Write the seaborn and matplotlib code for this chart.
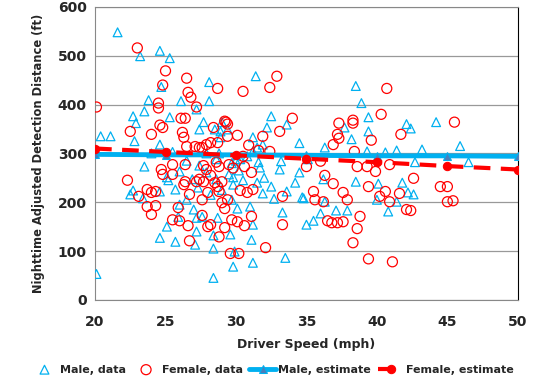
import matplotlib
matplotlib.use("Agg")
import matplotlib.pyplot as plt
import seaborn as sns
import pandas as pd

# driver speed (mph) and nighttime adjusted detection distance (ft)
male_speed = [20.1, 20.4, 21.1, 21.6, 23.2, 24.6, 25.3, 24.7, 23.8, 23.5, 22.7, 22.9, 22.8, 24.6,
              25.3, 26.1, 28.1, 28.1, 27.2, 27.7, 27.4, 29.0, 28.9, 29.4, 28.6, 23.5, 25.1, 26.0,
              25.7, 22.7, 22.5, 26.9, 27.3, 27.9, 28.6, 29.5, 29.8, 31.4, 31.2, 31.9, 31.7, 30.3,
              30.8, 23.4, 24.6, 25.2, 25.1, 24.6, 25.7, 27.1, 27.2, 27.2, 32.5, 32.2, 33.6, 34.5,
              31.5, 28.5, 28.9, 31.2, 29.8, 31.6, 33.2, 33.1, 34.5, 32.5, 31.9, 32.7, 31.0, 30.1,
              29.7, 31.2, 33.3, 31.1, 29.6, 28.4, 28.4, 29.9, 31.2, 29.8, 28.4, 33.5, 34.7, 28.7,
              27.6, 38.5, 38.9, 39.4, 37.7, 39.4, 38.2, 36.3, 39.3, 41.4, 42.1, 40.6, 35.1, 38.5,
              40.1, 41.8, 36.2, 34.8, 36.3, 37.1, 37.9, 36.0, 35.5, 35.0, 40.8, 41.4, 42.2, 40.0,
              44.2, 42.4, 45.9, 43.2, 42.7, 46.5, 42.6, 26.5, 27.4, 27.9, 28.8, 25.5, 29.7, 30.2,
              28.2, 26.5, 27.0, 29.0, 30.5, 31.5, 32.0, 30.0, 24.0, 26.0, 25.9, 33.6, 34.2]
male_dist = [53, 335, 335, 548, 499, 510, 495, 436, 409, 386, 376, 362, 325, 318,
             374, 407, 407, 446, 390, 364, 349, 364, 345, 349, 288, 273, 251, 263,
             226, 224, 216, 247, 230, 261, 247, 257, 236, 458, 333, 318, 271, 288,
             294, 208, 222, 245, 150, 127, 119, 113, 140, 168, 376, 353, 359, 321,
             312, 349, 333, 304, 251, 282, 284, 267, 261, 232, 218, 207, 191, 187,
             205, 154, 179, 123, 134, 132, 105, 99, 76, 68, 45, 86, 210, 168,
             170, 438, 403, 374, 353, 345, 329, 312, 304, 306, 360, 302, 288, 242,
             238, 240, 247, 208, 201, 183, 183, 177, 162, 154, 181, 201, 220, 205,
             364, 351, 315, 308, 282, 282, 216, 285, 275, 300, 300, 303, 280, 265,
             215, 205, 185, 225, 245, 240, 250, 285, 300, 195, 170, 222, 240]

female_speed = [20.1, 23.0, 25.0, 26.5, 24.8, 26.6, 26.8, 24.5, 24.5, 26.1, 26.4, 27.2, 24.6, 24.8,
                24.0, 22.5, 26.2, 26.3, 26.5, 27.1, 27.4, 27.6, 27.9, 28.2, 28.4, 28.7, 29.2, 29.3,
                29.4, 29.4, 30.1, 30.5, 30.9, 30.5, 32.4, 32.9, 31.9, 32.4, 28.6, 28.8, 27.9, 27.7,
                29.5, 29.8, 30.6, 31.1, 31.6, 25.5, 25.5, 26.4, 26.4, 27.2, 27.4, 27.7, 24.7, 24.8,
                24.0, 23.7, 22.3, 23.1, 24.3, 26.3, 28.7, 29.0, 23.7, 24.3, 24.0, 25.5, 26.0, 25.9,
                26.6, 26.7, 26.7, 28.2, 28.5, 28.8, 28.0, 27.6, 29.4, 30.3, 30.8, 31.2, 33.3, 33.3,
                31.1, 30.1, 30.6, 29.7, 29.2, 28.2, 28.0, 28.8, 27.6, 32.1, 29.6, 30.2, 29.0, 29.2,
                40.7, 40.3, 37.3, 38.3, 38.3, 37.2, 37.3, 36.9, 39.6, 41.7, 38.4, 36.0, 38.6, 39.3,
                39.9, 40.9, 35.0, 36.3, 36.9, 39.4, 40.6, 41.6, 37.6, 35.5, 35.6, 36.2, 37.9, 40.9,
                40.2, 38.8, 38.6, 38.3, 36.5, 36.8, 37.2, 37.6, 39.4, 41.1, 42.1, 45.5, 42.6, 44.5,
                45.0, 45.0, 45.4, 42.4, 34.0, 33.1, 28.7]
female_dist = [395, 516, 469, 454, 440, 425, 415, 403, 393, 372, 372, 395, 358, 353,
               339, 345, 343, 333, 314, 314, 312, 312, 318, 322, 353, 322, 366, 364,
               360, 335, 337, 294, 317, 427, 435, 458, 335, 304, 282, 273, 267, 275,
               277, 270, 273, 261, 306, 277, 257, 277, 242, 242, 247, 242, 267, 257,
               220, 226, 245, 212, 222, 236, 232, 242, 191, 193, 175, 164, 162, 189,
               152, 121, 216, 255, 240, 222, 220, 205, 205, 224, 220, 226, 212, 154,
               171, 160, 152, 164, 148, 154, 150, 129, 173, 107, 95, 95, 199, 187,
               433, 380, 362, 368, 362, 339, 331, 318, 327, 339, 304, 284, 273, 273,
               263, 277, 273, 255, 238, 232, 222, 218, 220, 222, 205, 201, 205, 201,
               212, 171, 146, 117, 162, 158, 158, 160, 84, 78, 185, 364, 249, 232,
               232, 201, 203, 183, 372, 345, 433]

est_speed = [20, 25, 30, 35, 40, 45, 50]
male_est = [298, 297, 297, 296, 295, 295, 294]
female_est = [310, 303, 296, 289, 282, 274, 267]

cyan = "#00B0F0"
red = "#FF0000"

sns.set_style("white")
plt.rcParams["font.family"] = ["DejaVu Sans"]

fig = plt.figure(figsize=(5.4, 3.83), dpi=100)
ax = fig.add_axes([0.176, 0.217, 0.783, 0.765])

male = pd.DataFrame({"speed": male_speed, "dist": male_dist})
female = pd.DataFrame({"speed": female_speed, "dist": female_dist})
est = pd.DataFrame({"speed": est_speed, "male": male_est, "female": female_est})

sns.scatterplot(data=male, x="speed", y="dist", ax=ax, marker="^", s=40,
                facecolors="none", edgecolors=cyan, linewidth=0.9, label="Male, data", zorder=3)
sns.scatterplot(data=female, x="speed", y="dist", ax=ax, marker="o", s=52,
                facecolors="none", edgecolors=red, linewidth=0.9, label="Female, data", zorder=3)
sns.lineplot(data=est, x="speed", y="male", ax=ax, color=cyan, lw=3.5, marker="^",
             markersize=6, markerfacecolor="#4A7EBB", markeredgecolor=cyan,
             label="Male, estimate", zorder=4)
sns.lineplot(data=est, x="speed", y="female", ax=ax, color=red, lw=3, ls=(0, (4, 2.5)),
             marker="o", markersize=6, markerfacecolor=red, markeredgecolor=red,
             label="Female, estimate", zorder=5)

ax.set_xlim(20, 50)
ax.set_ylim(0, 600)
ax.set_xticks(range(20, 51, 5))
ax.set_yticks(range(0, 601, 100))
ax.yaxis.grid(True, color="#999999", lw=0.9)
ax.xaxis.grid(False)
for side in ["left", "bottom", "top"]:
    ax.spines[side].set_color("#888888")
ax.spines["right"].set_color("black")
ax.tick_params(axis="x", direction="out", length=3, color="#888888", labelsize=10, pad=8)
ax.tick_params(axis="y", length=0, labelsize=10, pad=6)
for lab in ax.get_xticklabels() + ax.get_yticklabels():
    lab.set_fontweight("bold")

ax.set_xlabel("Driver Speed (mph)", fontsize=9, fontweight="bold", labelpad=6)
ax.set_ylabel("Nighttime Adjusted Detection Distance (ft)", fontsize=8.3, fontweight="bold", labelpad=9)

leg = ax.legend(loc="center", bbox_to_anchor=(0.505, 0.035), bbox_transform=fig.transFigure,
                ncol=4, frameon=False, prop={"weight": "bold", "size": 8},
                handlelength=2.4, columnspacing=0.6, handletextpad=0.2)

fig.savefig("out.png", dpi=100)
